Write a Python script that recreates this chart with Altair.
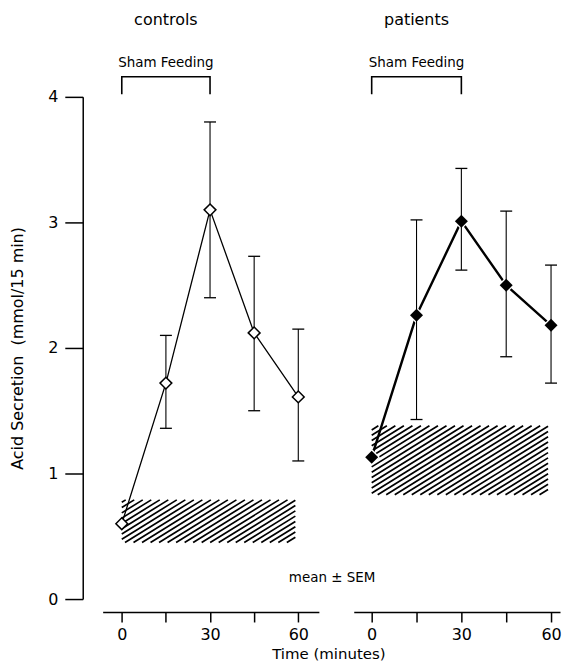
import altair as alt
import pandas as pd

# ---------------- data ----------------
time = [0, 15, 30, 45, 60]
ctrl_mean = [0.60, 1.72, 3.10, 2.12, 1.61]
ctrl_lo = [None, 1.36, 2.40, 1.50, 1.10]
ctrl_hi = [None, 2.10, 3.80, 2.73, 2.15]
pat_mean = [1.13, 2.26, 3.01, 2.50, 2.18]
pat_lo = [None, 1.43, 2.62, 1.93, 1.72]
pat_hi = [None, 3.02, 3.43, 3.09, 2.66]
# basal range shown as hatched band: [t start, t end, low, high]
ctrl_band = [0, 59, 0.45, 0.79]
pat_band = [0, 59, 0.83, 1.38]
sham = [0, 30]
x_ticks = [0, 15, 30, 45, 60]
y_ticks = [0, 1, 2, 3, 4]
titles = ["controls", "patients"]

# ---------------- layout ----------------
FONT = "DejaVu Sans"
PLOT_H = 504
Y_DOM = [0, 4]
L_W, L_DOM = 217, [-6.5, 67]
R_W, R_DOM = 207, [-6, 63]


def hatch(band, width, xdom, slope=0.62, gap=5.3):
    kx = width / (xdom[1] - xdom[0])
    ky = PLOT_H / (Y_DOM[1] - Y_DOM[0])
    x0, x1 = band[0] * kx, band[1] * kx
    y0, y1 = band[2] * ky, band[3] * ky
    rows = []
    c = y0 - slope * x1
    while c < y1 - slope * x0:
        xs = max(x0, (y0 - c) / slope)
        xe = min(x1, (y1 - c) / slope)
        if xe > xs:
            rows.append(dict(x=xs / kx, x2=xe / kx,
                             y=(c + slope * xs) / ky, y2=(c + slope * xe) / ky))
        c += gap
    return pd.DataFrame(rows)


def panel(title, mean, lo, hi, band, width, xdom, filled, show_y, extra):
    df = pd.DataFrame({"t": time, "m": mean, "lo": lo, "hi": hi})
    xs = alt.Scale(domain=xdom, nice=False, zero=False)
    ys = alt.Scale(domain=Y_DOM, nice=False)
    xaxis = alt.Axis(values=x_ticks,
                     labelExpr="datum.value % 30 === 0 ? datum.label : ''",
                     offset=13, tickSize=10, labelPadding=5, labelFontSize=16,
                     labelFont=FONT, labelColor="black", domainColor="black",
                     tickColor="black", domainWidth=1.5, tickWidth=1.5,
                     grid=False, title=None)
    if show_y:
        yaxis = alt.Axis(values=y_ticks, format="d", offset=20, tickSize=18,
                         labelPadding=7, labelFontSize=16, labelFont=FONT,
                         labelColor="black", domainColor="black", tickColor="black",
                         domainWidth=1.5, tickWidth=1.5, grid=False,
                         title="Acid Secretion\u00a0 (mmol/15 min)",
                         titleFont=FONT, titleFontSize=16, titleFontWeight="normal",
                         titleColor="black", titlePadding=22)
    else:
        yaxis = None

    def X(f):
        return alt.X(f, type="quantitative", scale=xs, axis=xaxis)

    def Y(f):
        return alt.Y(f, type="quantitative", scale=ys, axis=yaxis)

    one = pd.DataFrame({"_": [0]})
    layers = []
    layers.append(alt.Chart(hatch(band, width, xdom)).mark_rule(
        color="black", strokeWidth=1.7).encode(x=X("x"), x2="x2", y=Y("y"), y2="y2"))
    layers.append(alt.Chart(df).mark_line(
        color="black", strokeWidth=2.4 if filled else 1.3).encode(x=X("t"), y=Y("m")))
    if filled:
        layers.append(alt.Chart(df).mark_point(
            shape="diamond", filled=True, color="white", size=280, opacity=1
        ).encode(x=X("t"), y=Y("m")))
    err = alt.Chart(df).transform_filter("isValid(datum.lo)")
    layers.append(err.mark_rule(color="black", strokeWidth=1.1).encode(
        x=X("t"), y=Y("lo"), y2="hi"))
    layers.append(err.mark_tick(orient="horizontal", size=12, thickness=1.3,
                                color="black", opacity=1).encode(x=X("t"), y=Y("hi")))
    layers.append(err.mark_tick(orient="horizontal", size=12, thickness=1.3,
                                color="black", opacity=1).encode(x=X("t"), y=Y("lo")))
    if filled:
        layers.append(alt.Chart(df).mark_point(
            shape="diamond", filled=True, color="black", size=170, opacity=1
        ).encode(x=X("t"), y=Y("m")))
    else:
        layers.append(alt.Chart(df).mark_point(
            shape="diamond", filled=True, fill="white", stroke="black",
            strokeWidth=1.5, size=140, opacity=1).encode(x=X("t"), y=Y("m")))
    # Sham feeding bracket
    br = pd.DataFrame({"t": [sham[0], sham[0], sham[1], sham[1]],
                       "v": [4.02, 4.16, 4.16, 4.02], "o": [0, 1, 2, 3]})
    layers.append(alt.Chart(br).mark_line(color="black", strokeWidth=1.6).encode(
        x=X("t"), y=Y("v"), order="o"))
    mid = (sham[0] + sham[1]) / 2
    layers.append(alt.Chart(one).mark_text(
        text="Sham Feeding", font=FONT, fontSize=13.5, color="black").encode(
        x=alt.datum(mid), y=alt.datum(4.27)))
    layers.append(alt.Chart(one).mark_text(
        text=title, font=FONT, fontSize=16, color="black").encode(
        x=alt.datum(mid), y=alt.datum(4.61)))
    for txt, tx, ty, fs in extra:
        layers.append(alt.Chart(one).mark_text(
            text=txt, font=FONT, fontSize=fs, color="black").encode(
            x=alt.datum(tx), y=alt.datum(ty)))
    return alt.layer(*layers).properties(width=width, height=PLOT_H)


left = panel(titles[0], ctrl_mean, ctrl_lo, ctrl_hi, ctrl_band, L_W, L_DOM,
             False, True,
             [("mean \u00b1 SEM", 71.5, 0.17, 13.5),
              ("Time (minutes)", 70.4, -0.435, 15)])
right = panel(titles[1], pat_mean, pat_lo, pat_hi, pat_band, R_W, R_DOM,
              True, False, [])

chart = alt.hconcat(left, right, spacing=35, bounds="flush").resolve_scale(
    x="independent", y="independent"
).properties(
    padding={"left": 1, "top": 3, "right": 0, "bottom": 0}
).configure_view(stroke=None)

chart.save("out.html", embed_options={"renderer": "svg", "actions": False})
